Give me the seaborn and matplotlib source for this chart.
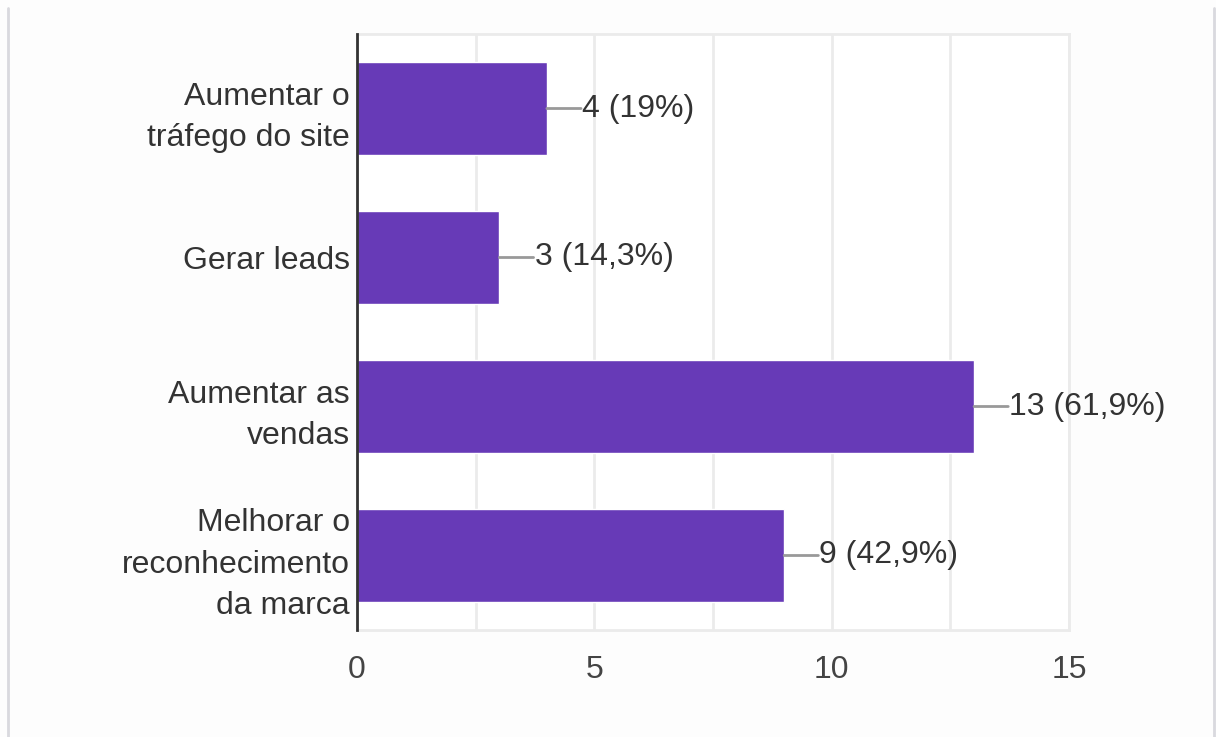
import matplotlib
matplotlib.use("Agg")
import matplotlib.pyplot as plt
import seaborn as sns
import pandas as pd
from matplotlib.lines import Line2D

categories = [
    "Aumentar o\ntráfego do site",
    "Gerar leads",
    "Aumentar as\nvendas",
    "Melhorar o\nreconhecimento\nda marca",
]
counts = [4, 3, 13, 9]
percent_labels = ["19%", "14,3%", "61,9%", "42,9%"]
x_ticks = [0, 5, 10, 15]

df = pd.DataFrame({"categoria": categories, "respostas": counts})

sns.set_theme(style="white")
plt.rcParams["font.family"] = ["Liberation Sans", "DejaVu Sans"]

fig = plt.figure(figsize=(12.16, 7.37), dpi=100)
fig.patch.set_facecolor("#fdfdfd")
ax = fig.add_axes([357 / 1216, 1 - 630 / 737, (1069 - 357) / 1216, (630 - 34) / 737])
ax.set_facecolor("white")

sns.barplot(data=df, y="categoria", x="respostas", orient="h",
            color="#673ab7", saturation=1, width=0.63, ax=ax, zorder=3)

ax.set_xlim(0, 15)
ax.set_ylim(3.5, -0.5)
ax.set_xticks(x_ticks)
ax.set_xticks([2.5, 7.5, 12.5], minor=True)
ax.grid(True, axis="x", which="both", color="#ebebeb", linewidth=2, zorder=0)
ax.tick_params(axis="x", which="both", length=0, labelsize=23, colors="#444444", pad=18)
ax.tick_params(axis="y", length=0, labelsize=23, colors="#333333", pad=5)
for lbl in ax.get_yticklabels():
    lbl.set_linespacing(1.48)
ax.set_xlabel("")
ax.set_ylabel("")

for side in ["top", "right", "bottom"]:
    ax.spines[side].set_color("#ebebeb")
    ax.spines[side].set_linewidth(2)
ax.spines["left"].set_color("#333333")
ax.spines["left"].set_linewidth(2)
ax.spines["left"].set_zorder(5)

# value annotations with short leader lines
for i, (n, p) in enumerate(zip(counts, percent_labels)):
    ax.annotate("", xy=(n, i), xytext=(n + 0.72, i),
                arrowprops=dict(arrowstyle="-", color="#999999", lw=2,
                                shrinkA=0, shrinkB=0), zorder=4)
    ax.text(n + 0.74, i, f"{n} ({p})", va="center", ha="left",
            fontsize=23, color="#333333", zorder=4)

# page frame edges
fig.add_artist(Line2D([8 / 1216, 8 / 1216], [0, 1 - 8 / 737], color="#d9d9de", lw=2))
fig.add_artist(Line2D([1214 / 1216, 1214 / 1216], [0, 1 - 8 / 737], color="#d9d9de", lw=2))

fig.savefig("out.png", dpi=100, facecolor=fig.get_facecolor())
